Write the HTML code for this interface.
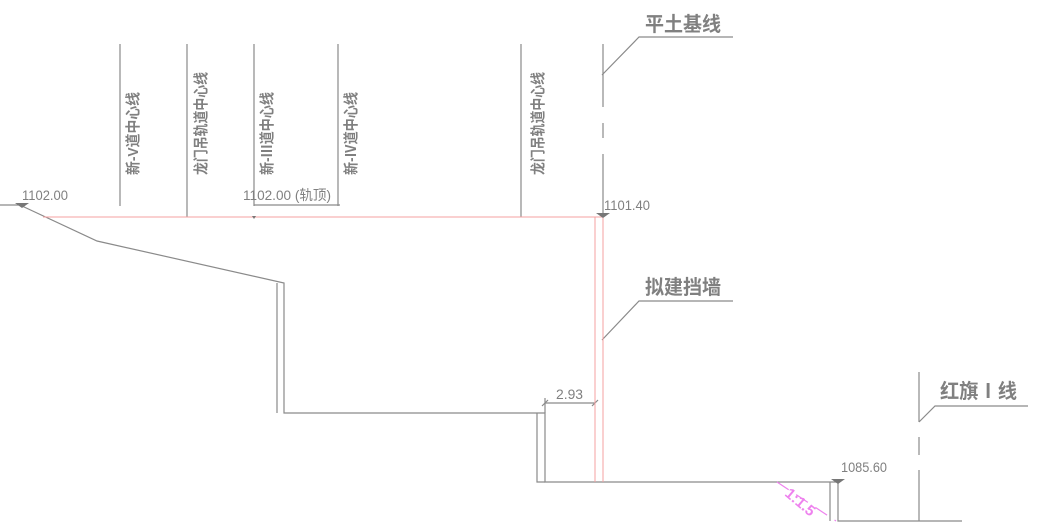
<!DOCTYPE html>
<html><head><meta charset="utf-8"><style>
html,body{margin:0;padding:0;background:#fff;}
svg{display:block;}
text{font-family:"Liberation Sans","Noto Sans CJK SC",sans-serif;fill:#808080;}
</style></head><body>
<svg width="1041" height="532" viewBox="0 0 1041 532" xmlns="http://www.w3.org/2000/svg">
<g stroke="#8a8a8a" stroke-width="1.2" fill="none">
<line x1="120" y1="44" x2="120" y2="206"/>
<line x1="187" y1="44" x2="187" y2="217"/>
<line x1="254" y1="44" x2="254" y2="206"/>
<line x1="338" y1="44" x2="338" y2="206"/>
<line x1="521" y1="44" x2="521" y2="217"/>
<line x1="603" y1="44" x2="603" y2="107"/>
<line x1="603" y1="123" x2="603" y2="138"/>
<line x1="603" y1="154" x2="603" y2="216"/>
<polyline points="602,75 639,37 733,37"/>
<polyline points="602,340 639,301 733,301"/>
<line x1="919" y1="372" x2="919" y2="422"/>
<line x1="919" y1="437" x2="919" y2="455"/>
<line x1="919" y1="470" x2="919" y2="521"/>
<polyline points="919,422 935,406 1028,406"/>
<line x1="0" y1="205" x2="20" y2="205"/>
<polyline points="22,206 97,241 284,283 284,413 537,413"/>
<line x1="277" y1="283" x2="277" y2="413"/>
<polyline points="537,413 545,413 545,482 830,482 838,482 838,521 962,521"/>
<polyline points="537,413 537,482 545,482"/>
<line x1="830" y1="482" x2="830" y2="521"/>
<line x1="545" y1="403" x2="595" y2="403"/>
<line x1="545" y1="398" x2="545" y2="413"/>
<line x1="542" y1="406" x2="548" y2="400"/>
<line x1="592" y1="406" x2="598" y2="400"/>
<line x1="254" y1="205" x2="340" y2="205"/>
</g>
<g stroke="#f4a0a0" stroke-width="1" fill="none">
<line x1="43" y1="217" x2="603" y2="217"/>
<line x1="595" y1="217" x2="595" y2="482"/>
<line x1="603" y1="217" x2="603" y2="482"/>
</g>
<line x1="777" y1="482" x2="836" y2="521" stroke="#ee82ee" stroke-width="1.2" stroke-dasharray="14,9"/>
<text transform="translate(784,495) rotate(40)" font-size="15" font-weight="bold" style="fill:#ee82ee">1:1.5</text>
<g fill="#777">
<polygon points="15,203 29,203 22,208"/>
<polygon points="596,213 610,213 603,218"/>
<polygon points="831,479 845,479 838,484"/>
<polygon points="252,216 256,216 254,219"/>
</g>
<g font-size="14">
<text x="22" y="200" textLength="46" lengthAdjust="spacingAndGlyphs">1102.00</text>
<text x="243" y="200" textLength="88" lengthAdjust="spacingAndGlyphs">1102.00 (轨顶)</text>
<text x="604" y="210" textLength="46" lengthAdjust="spacingAndGlyphs">1101.40</text>
<text x="841" y="472" textLength="46" lengthAdjust="spacingAndGlyphs">1085.60</text>
<text x="556" y="399" textLength="27" lengthAdjust="spacingAndGlyphs">2.93</text>
</g>
<g font-size="15" font-weight="bold">
<text transform="translate(138,175) rotate(-90)" textLength="83" lengthAdjust="spacingAndGlyphs">新-V道中心线</text>
<text transform="translate(206,175) rotate(-90)" textLength="103" lengthAdjust="spacingAndGlyphs">龙门吊轨道中心线</text>
<text transform="translate(272,175) rotate(-90)" textLength="83" lengthAdjust="spacingAndGlyphs">新-Ⅲ道中心线</text>
<text transform="translate(356,175) rotate(-90)" textLength="83" lengthAdjust="spacingAndGlyphs">新-Ⅳ道中心线</text>
<text transform="translate(543,175) rotate(-90)" textLength="103" lengthAdjust="spacingAndGlyphs">龙门吊轨道中心线</text>
</g>
<g font-size="20" font-weight="bold">
<text x="645" y="31" textLength="76" lengthAdjust="spacingAndGlyphs">平土基线</text>
<text x="645" y="294" textLength="76" lengthAdjust="spacingAndGlyphs">拟建挡墙</text>
<text x="940" y="398" textLength="77" lengthAdjust="spacingAndGlyphs">红旗Ⅰ线</text>
</g>
</svg>
</body></html>
